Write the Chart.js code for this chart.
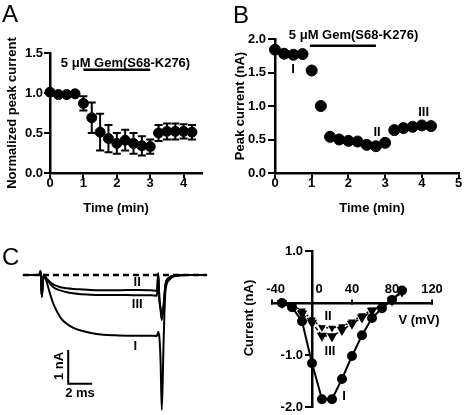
<!DOCTYPE html>
<html><head><meta charset="utf-8">
<script src="https://cdn.jsdelivr.net/npm/chart.js@4/dist/chart.umd.min.js"></script>
<style>
html,body{margin:0;padding:0;background:#fff;}
#fig{position:relative;width:465px;height:415px;overflow:hidden;background:#fff;}
canvas{position:absolute;}
</style></head><body>
<div id="fig">
<canvas id="cA" width="232" height="215" style="left:0;top:0"></canvas>
<canvas id="cB" width="233" height="215" style="left:232px;top:0"></canvas>
<canvas id="cC" width="232" height="200" style="left:0;top:215px"></canvas>
<canvas id="cD" width="233" height="200" style="left:232px;top:215px"></canvas>
</div>
<script>
// ---------- data ----------
const timeMin = [0,0.25,0.5,0.75,1,1.25,1.5,1.75,2,2.25,2.5,2.75,3,3.25,3.5,3.75,4,4.25];
const normCurrent = [1.01,0.98,0.98,0.99,0.87,0.69,0.51,0.43,0.37,0.41,0.37,0.34,0.33,0.50,0.52,0.52,0.52,0.51];
const normSem = [0.02,0.02,0.02,0.02,0.09,0.19,0.23,0.17,0.13,0.13,0.13,0.12,0.09,0.10,0.10,0.10,0.09,0.09];
const peakCurrent = [1.84,1.78,1.765,1.775,1.53,1.0,0.54,0.50,0.48,0.47,0.42,0.40,0.45,0.64,0.67,0.69,0.71,0.70];
const drugTimesA = [1, 3];
const drugLevelA = 1.29;
const drugTimesB = [0.95, 2.75];
const drugLevelB = 1.9;
const xTicksA = [0,1,2,3,4];
const yTicksA = [0,0.5,1,1.5];
const xTicksB = [0,1,2,3,4,5];
const yTicksB = [0,0.5,1,1.5,2];

const traceTimes = [-1.67,-0.3,-0.2,-0.1,0.05,0.25,0.5,0.75,1.0,1.25,1.5,2.0,2.5,3.0,4.0,5.0,6.0,7.0,8.0,9.0,9.5,9.6,9.7,9.8,9.9,10.05,10.2,10.5,11.0,12.0,13.67];
const traceI   = [0,0,0.12,-0.65,0.0,-0.15,-0.45,-0.75,-0.98,-1.15,-1.3,-1.47,-1.58,-1.65,-1.74,-1.79,-1.81,-1.82,-1.82,-1.82,-1.83,-1.70,-1.88,-2.6,-4.05,-2.0,-0.5,-0.15,-0.03,0,0];
const traceII  = [0,0,0.12,-0.65,0.0,-0.08,-0.18,-0.26,-0.31,-0.34,-0.37,-0.4,-0.42,-0.43,-0.45,-0.46,-0.46,-0.45,-0.45,-0.46,-0.47,0.05,-0.7,-1.0,-1.3,-0.9,-0.3,-0.08,-0.02,0,0];
const traceIII = [0,0,0.12,-0.65,0.0,-0.1,-0.22,-0.33,-0.4,-0.44,-0.47,-0.52,-0.55,-0.57,-0.59,-0.6,-0.6,-0.6,-0.61,-0.61,-0.62,0.05,-0.75,-1.05,-1.35,-0.95,-0.32,-0.09,-0.02,0,0];
const baselineT = [-1.67, 13.67];
const scaleBarT = [2.1, 2.1, 4.1];
const scaleBarI = [-2.25, -3.26, -3.26];

const ivVoltage = [-30,-20,-10,0,10,20,30,40,50,60,70,80,90];
const ivI   = [0,-0.08,-0.35,-1.16,-1.85,-1.85,-1.46,-1.02,-0.62,-0.29,-0.1,0.06,0.24];
const ivII  = [0,-0.04,-0.15,-0.32,-0.47,-0.48,-0.45,-0.36,-0.24,-0.13,-0.03,0.05,0.2];
const ivIII = [0,-0.06,-0.2,-0.38,-0.63,-0.64,-0.52,-0.4,-0.28,-0.15,-0.04,0.05,0.22];
const xTicksIV = [-40,0,40,80,120];
const yTicksIV = [-2,-1,1];

// ---------- helpers ----------
const FF = '"Liberation Sans", Arial, Helvetica, sans-serif';
const BOLD = {family: FF, size: 13, weight: 'bold'};
Chart.defaults.font.family = FF;
Chart.defaults.color = '#000';

function pts(xs, ys){ return xs.map((x,i)=>({x:x, y:ys[i]})); }
function fixedTicks(arr){ return s => { s.ticks = arr.map(v=>({value:v})); }; }

function makeAnnot(items){
  return {
    id: 'annot',
    afterDraw(chart){
      const ctx = chart.ctx;
      items.forEach(it => {
        let x = it.px, y = it.py;
        if (it.data) { x = chart.scales.x.getPixelForValue(it.x); y = chart.scales.y.getPixelForValue(it.y); }
        if (it.dx) x += it.dx;
        ctx.save();
        ctx.font = it.font || ('bold 13px ' + FF);
        ctx.fillStyle = '#000';
        ctx.textAlign = it.align || 'center';
        ctx.textBaseline = it.baseline || 'middle';
        ctx.translate(x, y);
        if (it.rot) ctx.rotate(it.rot);
        ctx.fillText(it.text, 0, 0);
        ctx.restore();
      });
    }
  };
}

const errorBars = {
  id: 'errorBars',
  beforeDatasetsDraw(chart){
    const {ctx, scales:{x, y}} = chart;
    ctx.save(); ctx.strokeStyle = '#000'; ctx.lineWidth = 2;
    timeMin.forEach((t,i) => {
      const px = x.getPixelForValue(t);
      const top = y.getPixelForValue(normCurrent[i] + normSem[i]);
      const bot = y.getPixelForValue(normCurrent[i] - normSem[i]);
      ctx.beginPath();
      ctx.moveTo(px, top); ctx.lineTo(px, bot);
      ctx.moveTo(px-4, top); ctx.lineTo(px+4, top);
      ctx.moveTo(px-4, bot); ctx.lineTo(px+4, bot);
      ctx.stroke();
    });
    ctx.restore();
  }
};

const axisStyle = (tickLen) => ({
  grid: {drawOnChartArea:false, color:'#000', lineWidth:2, tickLength:tickLen},
  border: {color:'#000', width:2.5}
});
const baseOpts = {
  responsive:false, animation:false, devicePixelRatio:1,
  plugins:{legend:{display:false}, tooltip:{enabled:false}}
};

// ---------- Panel A ----------
new Chart(document.getElementById('cA'), {
  type:'scatter',
  data:{datasets:[
    {data: pts(timeMin, normCurrent), pointRadius:5, pointHoverRadius:5, backgroundColor:'#000', borderColor:'#000', showLine:false, clip:false},
    {data: pts(drugTimesA, drugTimesA.map(()=>drugLevelA)), showLine:true, pointRadius:0, borderColor:'#000', borderWidth:2.5}
  ]},
  options: Object.assign({}, baseOpts, {
    layout:{padding:{top:53, right:30, left:0, bottom:0}},
    scales:{
      x: Object.assign({type:'linear', min:0, max:4.55, afterBuildTicks: fixedTicks(xTicksA), afterFit: s=>{s.height=42;},
          ticks:{color:'#000', padding:-2, font:BOLD, maxRotation:0}}, axisStyle(5)),
      y: Object.assign({type:'linear', min:0, max:1.5, afterBuildTicks: fixedTicks(yTicksA), afterFit: s=>{s.width=50;},
          ticks:{color:'#000', padding:1, font:BOLD, callback: v=>Number(v).toFixed(1)},
          title:{display:true, text:'Normalized peak current', color:'#000', font:BOLD, padding:{top:5, bottom:0}}}, axisStyle(6))
    }
  }),
  plugins:[errorBars, makeAnnot([
    {text:'A', px:2, py:22, font:'24px '+FF, align:'left', baseline:'alphabetic'},
    {text:'5 μM Gem(S68-K276)', data:true, x:2.26, y:1.375},
    {text:'Time (min)', px:116, py:208}
  ])]
});

// ---------- Panel B ----------
new Chart(document.getElementById('cB'), {
  type:'scatter',
  data:{datasets:[
    {data: pts(timeMin, peakCurrent), pointRadius:5.5, pointHoverRadius:5.5, backgroundColor:'#000', borderColor:'#000', showLine:false, clip:false},
    {data: pts(drugTimesB, drugTimesB.map(()=>drugLevelB)), showLine:true, pointRadius:0, borderColor:'#000', borderWidth:2.5}
  ]},
  options: Object.assign({}, baseOpts, {
    layout:{padding:{top:39, right:5, left:0, bottom:0}},
    scales:{
      x: Object.assign({type:'linear', min:0, max:5, afterBuildTicks: fixedTicks(xTicksB), afterFit: s=>{s.height=42;},
          ticks:{color:'#000', padding:-2, font:BOLD, maxRotation:0}}, axisStyle(5)),
      y: Object.assign({type:'linear', min:0, max:2, afterBuildTicks: fixedTicks(yTicksB), afterFit: s=>{s.width=43;},
          ticks:{color:'#000', padding:2, font:BOLD, callback: v=>Number(v).toFixed(1)},
          title:{display:true, text:'Peak current (nA)', color:'#000', font:BOLD, padding:{top:1, bottom:0}}}, axisStyle(7))
    }
  }),
  plugins:[makeAnnot([
    {text:'B', px:1, py:23, font:'24px '+FF, align:'left', baseline:'alphabetic'},
    {text:'5 μM Gem(S68-K276)', data:true, x:2.14, y:2.05},
    {text:'I', data:true, x:0.49, y:1.54},
    {text:'II', data:true, x:2.78, y:0.61},
    {text:'III', data:true, x:4.05, y:0.91},
    {text:'Time (min)', px:140, py:208}
  ])]
});

// ---------- Panel C (traces) ----------
const traceStyle = {showLine:true, pointRadius:0, borderColor:'#000', borderWidth:2, cubicInterpolationMode:'monotone', fill:false};
new Chart(document.getElementById('cC'), {
  type:'scatter',
  data:{datasets:[
    Object.assign({data: pts(traceTimes, traceI)}, traceStyle),
    Object.assign({data: pts(traceTimes, traceII)}, traceStyle),
    Object.assign({data: pts(traceTimes, traceIII)}, traceStyle),
    {data: pts(baselineT, baselineT.map(()=>0)), showLine:true, pointRadius:0, borderColor:'#000', borderWidth:2.5, borderDash:[6,4]},
    {data: pts(scaleBarT, scaleBarI), showLine:true, pointRadius:0, borderColor:'#000', borderWidth:2}
  ]},
  options: Object.assign({}, baseOpts, {
    layout:{padding:0},
    scales:{
      x:{type:'linear', display:false, min:-3.583, max:15.75},
      y:{type:'linear', display:false, min:-4.2, max:1.8}
    }
  }),
  plugins:[makeAnnot([
    {text:'C', px:2, py:50, font:'24px '+FF, align:'left', baseline:'alphabetic'},
    {text:'II', data:true, x:7.85, y:-0.21},
    {text:'III', data:true, x:7.85, y:-0.87},
    {text:'I', data:true, x:7.7, y:-2.13},
    {text:'1 nA', data:true, x:1.33, y:-2.73, rot:-Math.PI/2},
    {text:'2 ms', data:true, x:3.08, y:-3.54}
  ])]
});

// ---------- Panel C (I-V) ----------
const ivYLabels = yTicksIV.map(v => ({text: v.toFixed(1), data:true, x:0, y:v, dx:-9, align:'right'}));
new Chart(document.getElementById('cD'), {
  type:'scatter',
  data:{datasets:[
    {data: pts(ivVoltage, ivI), showLine:true, pointStyle:'circle', pointRadius:4, backgroundColor:'#000', borderColor:'#000', borderWidth:2, clip:false},
    {data: pts(ivVoltage, ivIII), showLine:true, pointStyle:'triangle', rotation:180, pointRadius:4.5, backgroundColor:'#000', borderColor:'#000', borderWidth:1.5, borderDash:[4,2], clip:false},
    {data: pts(ivVoltage, ivII), showLine:true, pointStyle:'triangle', rotation:180, pointRadius:3, backgroundColor:'#000', borderColor:'#000', borderWidth:1.5, borderDash:[2,2], clip:false}
  ]},
  options: Object.assign({}, baseOpts, {
    layout:{padding:{left:40, right:33, top:36, bottom:8}},
    scales:{
      x: Object.assign({type:'linear', min:-40, max:120, position:{y:0}, afterBuildTicks: fixedTicks(xTicksIV), afterFit: s=>{s.height=0;},
          ticks:{color:'#000', padding:-16, font:BOLD, maxRotation:0, callback: v => v===0 ? '    0' : (v===-40 ? '  -40' : String(v))}}, axisStyle(-5)),
      y: Object.assign({type:'linear', min:-2, max:1, position:{x:0}, afterBuildTicks: fixedTicks(yTicksIV), afterFit: s=>{s.width=0;},
          ticks:{display:false}}, axisStyle(6))
    }
  }),
  plugins:[makeAnnot(ivYLabels.concat([
    {text:'Current (nA)', px:17, py:103, rot:-Math.PI/2},
    {text:'V (mV)', px:187, py:105},
    {text:'II', data:true, x:16, y:-0.26},
    {text:'III', data:true, x:18, y:-0.94},
    {text:'I', data:true, x:32, y:-1.8}
  ]))]
});
</script>
</body></html>
